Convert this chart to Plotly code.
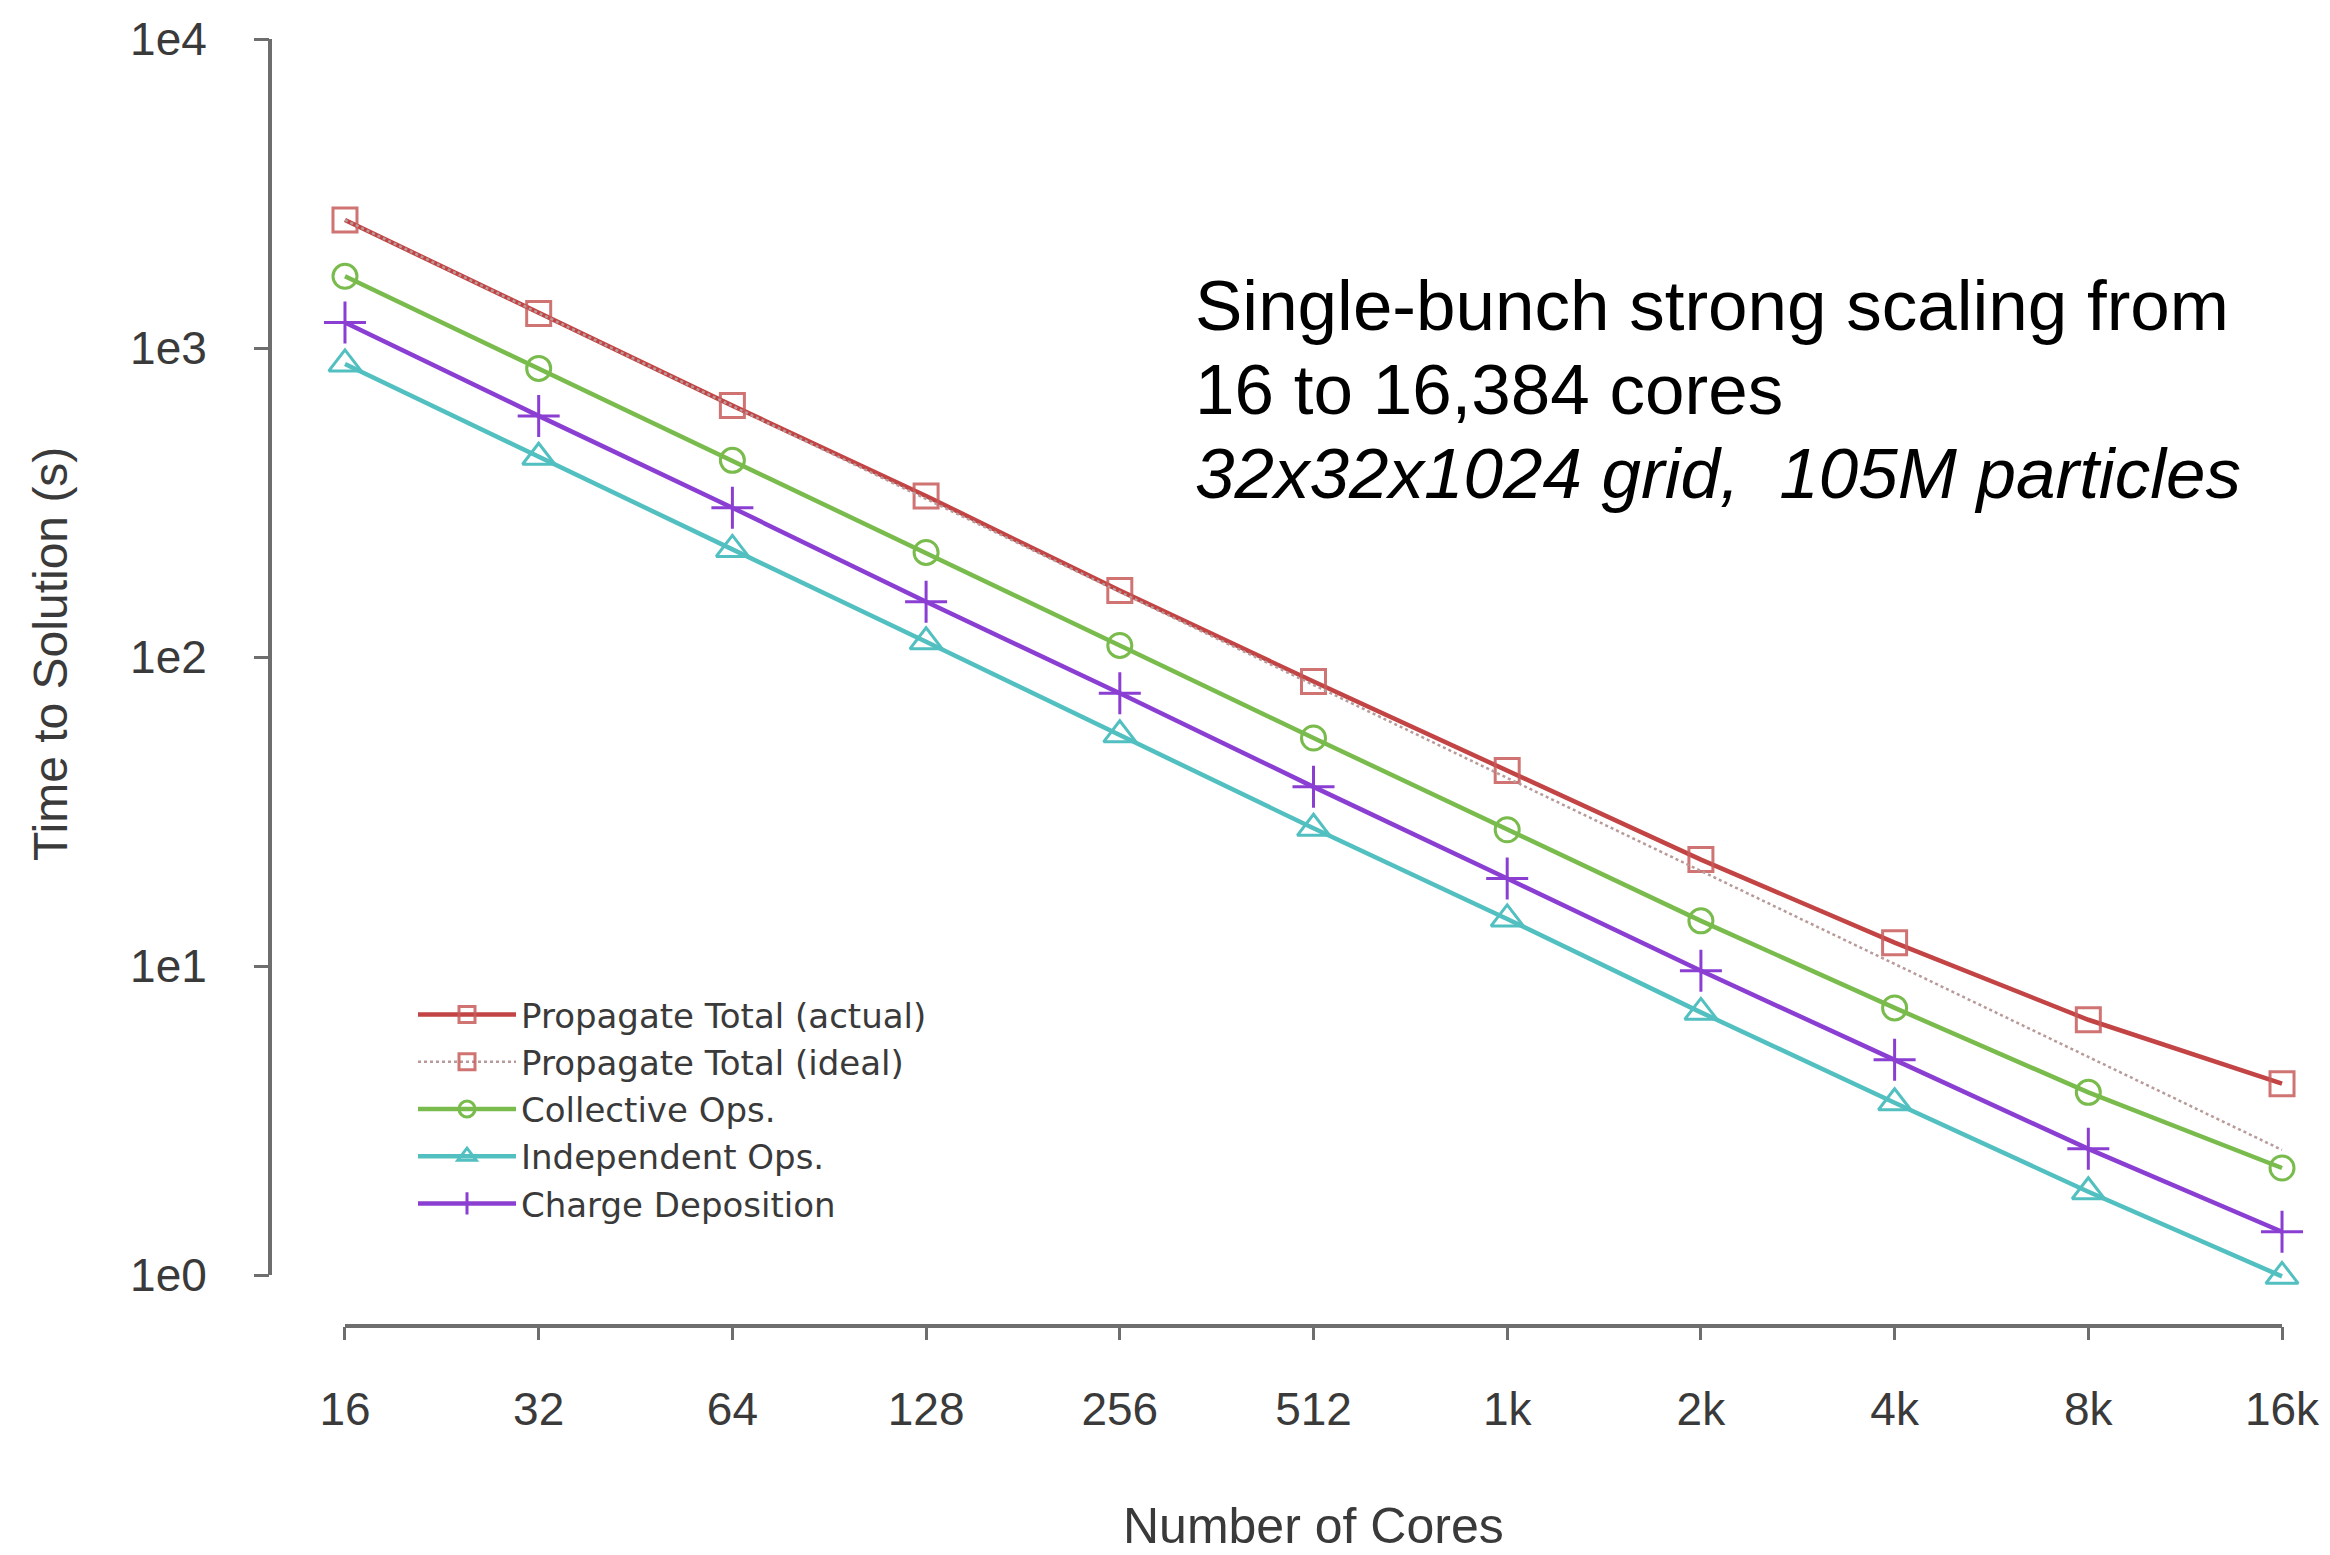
import plotly.graph_objects as go

cores = [16, 32, 64, 128, 256, 512, 1024, 2048, 4096, 8192, 16384]
core_labels = ["16", "32", "64", "128", "256", "512", "1k", "2k", "4k", "8k", "16k"]
y_ticks = [1, 10, 100, 1000, 10000]
y_tick_labels = ["1e0", "1e1", "1e2", "1e3", "1e4"]

propagate_actual = [2596, 1294, 651, 332, 164, 83.3, 42.9, 22.1, 11.9, 6.7, 4.16]
propagate_ideal = [2596, 1298, 649, 324.5, 162.2, 81.1, 40.6, 20.3, 10.1, 5.07, 2.54]
collective_ops = [1706, 859, 433, 218, 109, 54.7, 27.6, 14.0, 7.32, 3.90, 2.22]
independent_ops = [888, 443, 223, 112, 56.0, 27.9, 14.2, 7.08, 3.61, 1.86, 0.99]
charge_deposition = [1210, 603, 304, 151, 76.3, 38.0, 19.2, 9.65, 4.97, 2.56, 1.38]

RED = "#c24444"
RED_M = "rgba(200,90,90,0.85)"
GREEN = "#79bb4c"
CYAN = "#52bfc0"
PURPLE = "#8b3fd2"
IDEAL = "#b99a9a"
AX = "#6e6e6e"
TXT = "#3a3a3a"
FONT = "Liberation Sans, Arial, sans-serif"
LEG_FONT = "DejaVu Sans, Liberation Sans, sans-serif"

fig = go.Figure()

fig.add_trace(go.Scatter(
    x=cores, y=propagate_actual, name="Propagate Total (actual)",
    mode="lines+markers", line=dict(color=RED, width=4.5),
    marker=dict(symbol="square-open", size=24, color=RED_M, line=dict(width=3)),
    cliponaxis=False))
fig.add_trace(go.Scatter(
    x=cores, y=propagate_ideal, name="Propagate Total (ideal)",
    mode="lines", line=dict(color=IDEAL, width=2.5, dash="dot"),
    showlegend=False, legendgroup="ideal", cliponaxis=False))
fig.add_trace(go.Scatter(
    x=[None], y=[None], name="Propagate Total (ideal)",
    mode="lines+markers", line=dict(color=IDEAL, width=2.5, dash="dot"),
    marker=dict(symbol="square-open", size=24, color=RED_M, line=dict(width=3)),
    legendgroup="ideal"))
fig.add_trace(go.Scatter(
    x=cores, y=collective_ops, name="Collective Ops.",
    mode="lines+markers", line=dict(color=GREEN, width=4.5),
    marker=dict(symbol="circle-open", size=24, color=GREEN, line=dict(width=3)),
    cliponaxis=False))
fig.add_trace(go.Scatter(
    x=cores, y=independent_ops, name="Independent Ops.",
    mode="lines+markers", line=dict(color=CYAN, width=4.5),
    marker=dict(symbol="triangle-up-open", size=28, color=CYAN, line=dict(width=3)),
    cliponaxis=False))
fig.add_trace(go.Scatter(
    x=cores, y=charge_deposition, name="Charge Deposition",
    mode="lines+markers", line=dict(color=PURPLE, width=4.5),
    marker=dict(symbol="cross-thin-open", size=30, color=PURPLE, line=dict(width=3)),
    cliponaxis=False))

# page pixel geometry (browser body has an 8px margin)
OFF = 8
PW, PH = 2330, 1555
L, R, T, B = 270, 2310, 20, 1326
W, H = PW - OFF, PH - OFF

fig.update_layout(
    width=W, height=H,
    margin=dict(l=L - OFF, r=PW - R, t=T - OFF, b=PH - B, autoexpand=False),
    paper_bgcolor="white", plot_bgcolor="white",
    font=dict(family=FONT, color=TXT, size=44),
    xaxis=dict(
        type="log", range=[1.0876, 4.2579],
        tickvals=cores, ticktext=core_labels,
        showgrid=False, zeroline=False, showline=False,
        ticks="outside", ticklen=13, tickwidth=3, tickcolor=AX,
        tickfont=dict(size=46, color=TXT), ticklabelstandoff=30,
    ),
    yaxis=dict(
        type="log", range=[-0.165, 4.0615],
        tickvals=y_ticks, ticktext=y_tick_labels,
        showgrid=False, zeroline=False, showline=False,
        ticks="outside", ticklen=15, tickwidth=3, tickcolor=AX,
        tickfont=dict(size=46, color=TXT), ticklabelstandoff=38,
    ),
    legend=dict(
        x=(413 - L) / (R - L), y=(B - 986) / (B - T),
        xanchor="left", yanchor="top",
        font=dict(size=34, color=TXT, family=LEG_FONT), bgcolor="rgba(0,0,0,0)",
        tracegroupgap=0, itemwidth=98,
    ),
    showlegend=True,
)

# R-style detached axis lines spanning only the tick range
fig.add_shape(type="line", xref="x", yref="paper",
              x0=cores[0], x1=cores[-1], y0=0, y1=0,
              line=dict(color=AX, width=4))
fig.add_shape(type="line", xref="paper", yref="y",
              x0=0, x1=0, y0=y_ticks[0], y1=y_ticks[-1],
              line=dict(color=AX, width=4))

def px_x(px):
    return (px - L) / (R - L)

def px_y(py):
    return (B - py) / (B - T)

fig.add_annotation(text="Number of Cores", xref="paper", yref="paper",
                   x=px_x(1313), y=px_y(1526), showarrow=False,
                   xanchor="center", yanchor="middle",
                   font=dict(size=50, color=TXT))
fig.add_annotation(text="Time to Solution (s)", xref="paper", yref="paper",
                   x=px_x(50), y=px_y(654), showarrow=False, textangle=-90,
                   xanchor="center", yanchor="middle",
                   font=dict(size=48, color=TXT))

title_lines = ["Single-bunch strong scaling from", "16 to 16,384 cores",
               "<i>32x32x1024 grid,  105M particles</i>"]
title_y = [305, 389, 473]
for txt, yy in zip(title_lines, title_y):
    fig.add_annotation(text=txt, xref="paper", yref="paper",
                       x=px_x(1193), y=px_y(yy), showarrow=False,
                       xanchor="left", yanchor="middle", align="left",
                       font=dict(size=71, color="black", family=FONT))

fig.write_html("out.html")
